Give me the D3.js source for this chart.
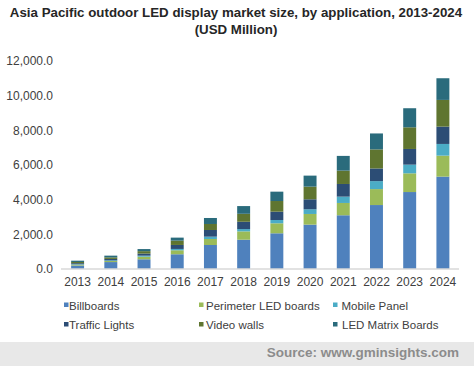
<!DOCTYPE html>
<html>
<head>
<meta charset="utf-8">
<script src="https://cdn.jsdelivr.net/npm/d3@7"></script>
<style>
html,body{margin:0;padding:0;background:#fff;}
svg{display:block;font-family:"Liberation Sans",Arial,sans-serif;}
</style>
</head>
<body>
<svg id="chart" width="474" height="366"></svg>
<script>
const years = ["2013","2014","2015","2016","2017","2018","2019","2020","2021","2022","2023","2024"];
const seriesNames = ["Billboards","Perimeter LED boards","Mobile Panel","Traffic Lights","Video walls","LED Matrix Boards"];
const billboards = [200, 400, 560, 850, 1385, 1690, 2060, 2560, 3100, 3690, 4440, 5330];
const perimeter  = [50, 60, 150, 230, 346, 480, 577, 615, 710, 920, 1080, 1210];
const mobile     = [25, 40, 60, 77, 135, 135, 190, 270, 365, 460, 500, 675];
const traffic    = [60, 80, 120, 230, 385, 420, 480, 577, 730, 730, 905, 1000];
const videoWalls = [70, 90, 140, 250, 346, 460, 615, 730, 770, 1100, 1250, 1540];
const ledMatrix  = [75, 100, 120, 173, 346, 445, 540, 635, 850, 920, 1100, 1250];
const yTicks = [0, 2000, 4000, 6000, 8000, 10000, 12000];
const colors = ["#4f81bd","#9bbb59","#4bacc6","#2c4d75","#5f7530","#2a6b7c"];

const seriesArrays = [billboards, perimeter, mobile, traffic, videoWalls, ledMatrix];
const table = years.map((y, i) => {
  const row = {year: y};
  seriesNames.forEach((s, k) => row[s] = seriesArrays[k][i]);
  return row;
});

const svg = d3.select("#chart");

// Title
svg.append("text").attr("x", 236).attr("y", 17).attr("text-anchor", "middle")
  .attr("font-size", 13.3).attr("font-weight", "bold").attr("fill", "#262626")
  .text("Asia Pacific outdoor LED display market size, by application, 2013-2024");
svg.append("text").attr("x", 236).attr("y", 34).attr("text-anchor", "middle")
  .attr("font-size", 13.3).attr("font-weight", "bold").attr("fill", "#262626")
  .text("(USD Million)");

const x = d3.scaleBand().domain(years).range([61, 459.5]).paddingInner(0.61).paddingOuter(0.305);
const yScale = d3.scaleLinear().domain([0, 12000]).range([269, 61]);

const stack = d3.stack().keys(seriesNames)(table);

svg.append("g").selectAll("g").data(stack).join("g")
  .attr("fill", (d, i) => colors[i])
  .selectAll("rect").data(d => d).join("rect")
  .attr("x", d => x(d.data.year))
  .attr("width", x.bandwidth())
  .attr("y", d => yScale(d[1]))
  .attr("height", d => yScale(d[0]) - yScale(d[1]));

// Y axis
const yAxis = svg.append("g").attr("transform", "translate(53,0)")
  .call(d3.axisLeft(yScale).tickValues(yTicks).tickSize(0).tickPadding(0)
    .tickFormat(d => d3.format(",.1f")(d)));
yAxis.select(".domain").remove();
yAxis.selectAll("text").attr("font-size", 12).attr("fill", "#404040")
  .attr("font-family", "Liberation Sans, Arial, sans-serif");

// X axis
const xAxis = svg.append("g").attr("transform", "translate(0,269)")
  .call(d3.axisBottom(x).tickSize(0).tickPadding(8));
xAxis.select(".domain").attr("stroke", "#d9d9d9").attr("stroke-width", 1.5)
  .attr("d", "M61,0H459");
xAxis.selectAll("text").attr("font-size", 12).attr("fill", "#404040")
  .attr("font-family", "Liberation Sans, Arial, sans-serif");

// Legend
const legendPos = [[64,305.5,69],[199,305.5,206],[333,305.5,341.5],[64,325,69],[199,325,206],[333,325,342]];
const lg = svg.append("g").selectAll("g").data(seriesNames).join("g");
lg.append("rect").attr("x", (d, i) => legendPos[i][0]).attr("y", (d, i) => legendPos[i][1] - 3)
  .attr("width", 4.5).attr("height", 4.5)
  .attr("fill", (d, i) => colors[i]);
lg.append("text").attr("x", (d, i) => legendPos[i][2]).attr("y", (d, i) => legendPos[i][1]).attr("dy", "0.35em")
  .attr("font-size", 11.5).attr("fill", "#404040").text(d => d);

// Source band
svg.append("rect").attr("x", 0).attr("y", 342).attr("width", 474).attr("height", 24).attr("fill", "#e8e8e8");
svg.append("text").attr("x", 459).attr("y", 352).attr("dy", "0.35em").attr("text-anchor", "end")
  .attr("font-size", 13.5).attr("font-weight", "bold").attr("fill", "#8c8c8c")
  .text("Source: www.gminsights.com");
</script>
</body>
</html>
